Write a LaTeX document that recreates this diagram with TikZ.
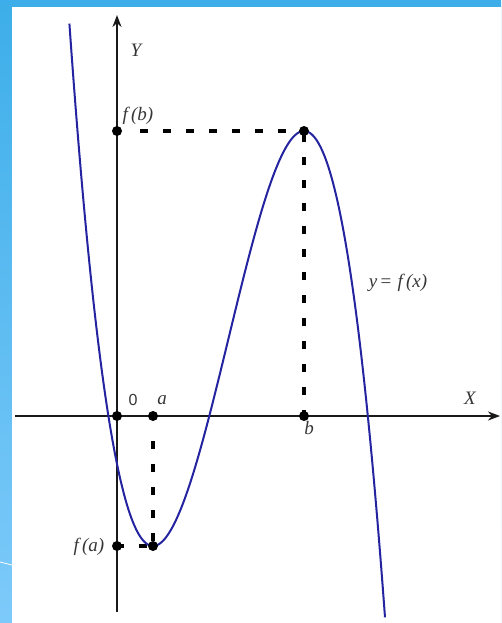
\documentclass[tikz,border=0pt]{standalone}
\usepackage{fontspec}
\setmainfont{Liberation Serif}
\newfontfamily\sansf{Liberation Sans}
\usetikzlibrary{arrows.meta}
\definecolor{frameblue}{RGB}{61,174,233}
\definecolor{framelight}{RGB}{125,202,250}
\definecolor{curveblue}{RGB}{36,36,160}
\definecolor{labelgray}{RGB}{55,55,55}
\begin{document}
\begin{tikzpicture}[x=1pt,y=-1pt,
  axis/.style={line width=2.2pt, draw=black!90, -{Stealth[length=12pt,width=9pt]}},
  dotpt/.style={circle, fill=black, inner sep=0pt, minimum size=10pt},
  guide/.style={line width=3.6pt, draw=black, dash pattern=on 8pt off 15pt},
  lab/.style={font=\fontsize{19}{21}\selectfont\itshape, text=labelgray, inner sep=0pt},
  curve/.style={line width=2pt, draw=curveblue}]
\useasboundingbox (0,0) rectangle (501,623);
% slide frame
\shade[top color=frameblue, bottom color=framelight] (0,0) rectangle (501,623);
\fill[white] (12,7) rectangle (501,623);
\draw[white, line width=0.8pt] (0,562) -- (12,565);
% axes
\coordinate (ybot) at (117,612);
\coordinate (ytop) at (117,15);
\coordinate (xl) at (15,416);
\coordinate (xr) at (500,416);
\draw[axis] (ybot) -- (ytop);
\draw[axis] (xl) -- (xr);
% points
\node[dotpt] (O) at (117,416) {};
\node[dotpt] (A) at (153,416) {};
\node[dotpt] (B) at (304,416) {};
\node[dotpt] (FB) at (117,131) {};
\node[dotpt] (FA) at (117,546) {};
% guide lines
\coordinate (Mc) at (304,131);
\coordinate (mc) at (153,546);
\draw[guide] ([xshift=23pt]FB.center) -- (Mc);
\draw[guide] ([yshift=-3pt]Mc) -- (B.center);
\draw[guide] ([yshift=-25pt]A.center) -- (mc);
\draw[guide] ([xshift=-6pt]mc) -- (FA.center);
% curve
\draw[curve] plot[domain=69.4:385,samples=220,smooth] (\x,{546-241.07*((\x-153)/100)^2*(2.265-(\x-153)/100)});
\node[dotpt] (M) at (Mc) {};
\node[dotpt] (m) at (mc) {};
% labels
\node[lab] (Ylab) at (136,50) {Y};
\node[lab] (Xlab) at (470,398) {X};
\node[lab] (fblab) at (138,116) {f\,(b)};
\node[lab] (falab) at (89,547) {f\,(a)};
\node[lab] (alab) at (162,400) {a};
\node[lab] (blab) at (309,428) {b};
\node[lab] (flab) at (398,283) {y\,{\upshape =}\,\,f\,(x)};
\node[font=\sansf\fontsize{16}{18}\selectfont, text=labelgray, inner sep=0pt] (zlab) at (133,400) {0};
\end{tikzpicture}
\end{document}
